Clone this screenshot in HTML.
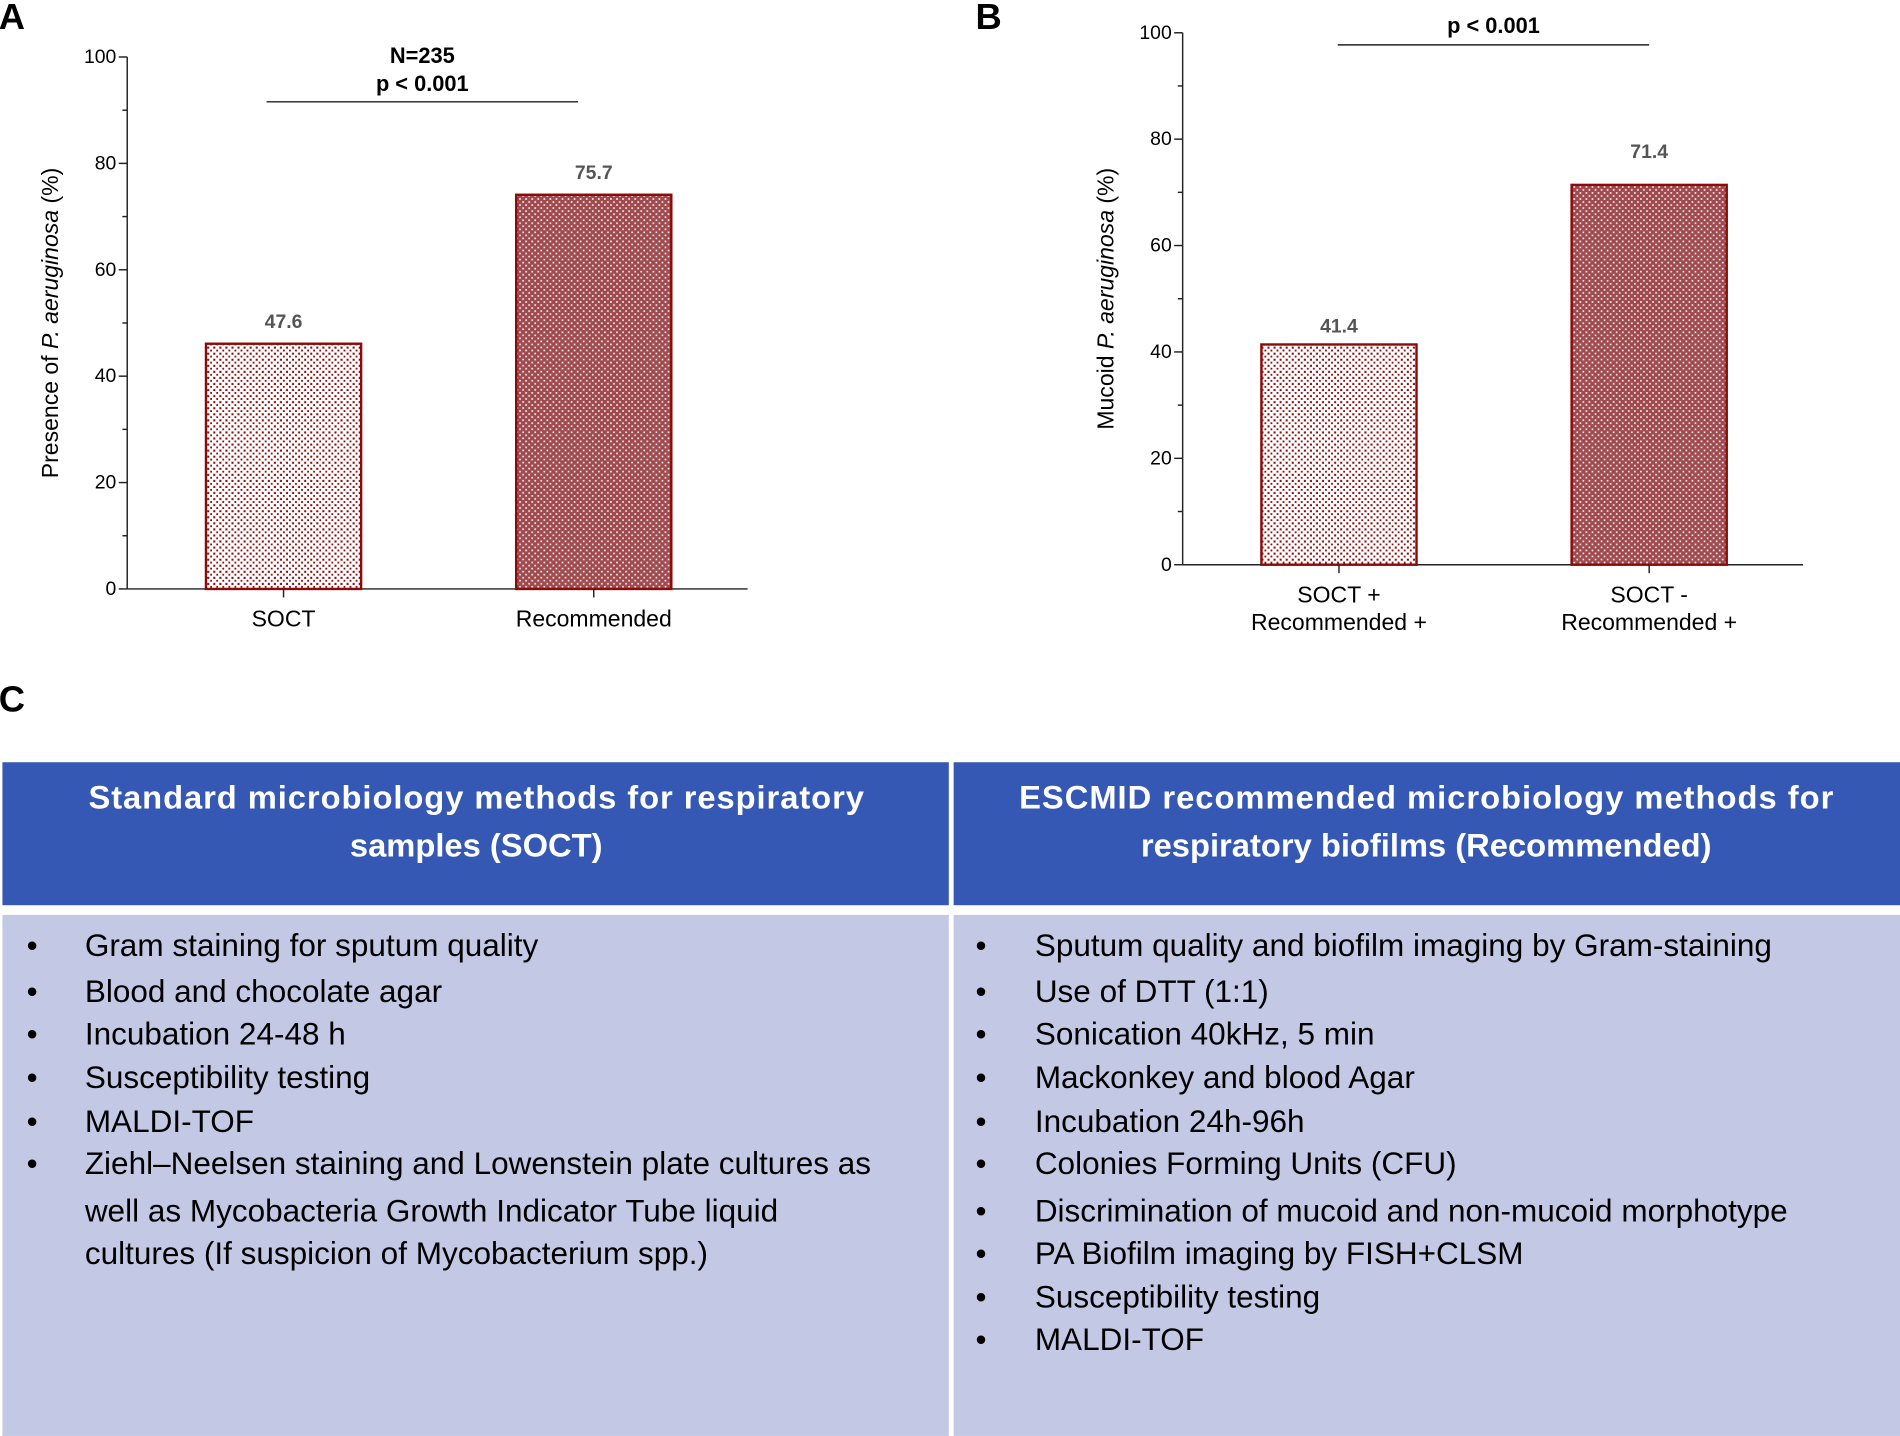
<!DOCTYPE html>
<html><head><meta charset="utf-8"><style>html,body{margin:0;padding:0;background:#fff}svg{display:block}</style></head>
<body>
<svg width="1900" height="1436" viewBox="0 0 1568 1185" xmlns="http://www.w3.org/2000/svg" font-family="Liberation Sans, Arial, sans-serif">
<defs>
<pattern id="pw" width="5" height="5" patternUnits="userSpaceOnUse"><rect width="5" height="5" fill="#fff"/><rect x="1" y="1" width="1.7" height="1.7" fill="#8b0a0a"/><rect x="3.5" y="3.5" width="1.7" height="1.7" fill="#8b0a0a"/></pattern>
<pattern id="pd" width="5" height="5" patternUnits="userSpaceOnUse"><rect width="5" height="5" fill="#9e4a4e"/><rect x="1" y="1" width="1.4" height="1.4" fill="#f6eaea"/><rect x="3.5" y="3.5" width="1.4" height="1.4" fill="#f6eaea"/></pattern>
</defs>
<g id="charts"></g>
<text x="-1" y="24" font-size="30" font-weight="bold">A</text>
<text x="805" y="24" font-size="30" font-weight="bold">B</text>
<text x="-1" y="587" font-size="30" font-weight="bold">C</text>

<g>
<rect x="2" y="629" width="781" height="118" fill="#3558b4"/>
<rect x="787" y="629" width="781" height="118" fill="#3558b4"/>
<rect x="2" y="755" width="781" height="430" fill="#c3c9e4"/>
<rect x="787" y="755" width="781" height="430" fill="#c3c9e4"/>
<g fill="#fff" font-size="27" font-weight="bold" text-anchor="middle">
<text x="393" y="667" textLength="640">Standard microbiology methods for respiratory</text>
<text x="393" y="707">samples (SOCT)</text>
<text x="1177" y="667" textLength="672">ESCMID recommended microbiology methods for</text>
<text x="1177" y="707">respiratory biofilms (Recommended)</text>
</g>
<g id="lists" font-size="26" fill="#000"></g>
</g>
</svg>
<script>
const NS='http://www.w3.org/2000/svg';
function mk(p,t,a,txt){const e=document.createElementNS(NS,t);for(const k in a)e.setAttribute(k,a[k]);if(txt!==undefined)e.textContent=txt;p.appendChild(e);return e;}
const catsA=['SOCT','Recommended'];
const valsA=[46.1,74.1];
const labelsA=['47.6','75.7'];
const catsB=[['SOCT +','Recommended +'],['SOCT -','Recommended +']];
const valsB=[41.4,71.4];
const labelsB=['41.4','71.4'];
const ticks=[0,20,40,60,80,100];
const fills=['url(#pw)','url(#pd)'];
const g=document.getElementById('charts');
function chart(name,ax,y0,cats,vals,labels,ytitle,loff){
  const ppu=4.39, x1=ax+512;
  const ys=v=>y0-v*ppu;
  const cg=mk(g,'g',{});
  
  
  const yl=mk(cg,'line',{x1:ax,x2:ax,y1:ys(0),y2:ys(100),stroke:'#222','stroke-width':1.2});
  
  
  const xl=mk(cg,'line',{x1:ax,x2:x1,y1:y0,y2:y0,stroke:'#222','stroke-width':1.2});
  
  
  for(let v=0;v<=100;v+=10){mk(cg,'line',{x1:ax-(v%20?4:7),x2:ax,y1:ys(v),y2:ys(v),stroke:'#222','stroke-width':1.2});}
  ticks.forEach(v=>{const t=mk(cg,'text',{x:ax-9,y:ys(v)+5,'font-size':16,'text-anchor':'end'},v);
    
    });
  const tt=mk(cg,'text',{transform:`translate(${ax-57},${ys(50)}) rotate(-90)`,'font-size':19,'text-anchor':'middle'});
  
  
  ytitle.forEach(p=>mk(tt,'tspan',p[1]?{'font-style':'italic'}:{},p[0]));
  cats.forEach((c,i)=>{
    const cx=ax+129+i*256, w=128;
    const b=mk(cg,'rect',{x:cx-w/2,y:ys(vals[i]),width:w,height:vals[i]*ppu,fill:fills[i],stroke:'#8b0a0a','stroke-width':2});
    
    
    const vl=mk(cg,'text',{x:cx,y:ys(vals[i])-loff[i],'font-size':16,'font-weight':'bold',fill:'#555','text-anchor':'middle'},labels[i]);
    
    
    mk(cg,'line',{x1:cx,x2:cx,y1:y0,y2:y0+7,stroke:'#222','stroke-width':1.2});
    const lines=Array.isArray(c)?c:[c];
    lines.forEach((s,j)=>{const t=mk(cg,'text',{x:cx,y:y0+31+j*23,'font-size':19,'text-anchor':'middle'},s);
      
      });
  });
}
chart('chart-a',105,486,catsA,valsA,labelsA,[['Presence of  ',0],['P. aeruginosa',1],[' (%)',0]],[13,13]);
chart('chart-b',976,466,catsB,valsB,labelsB,[['Mucoid ',0],['P. aeruginosa',1],[' (%)',0]],[10,22]);
function sig(x1,x2,y,lines,ty){
  const l=mk(g,'line',{x1:x1,x2:x2,y1:y,y2:y,stroke:'#222','stroke-width':1.2});
  
  
  lines.forEach((s,i)=>{const t=mk(g,'text',{x:(x1+x2)/2,y:ty+i*23,'font-size':18,'font-weight':'bold','text-anchor':'middle'},s);
    
    });
}
sig(220,477,84,['N=235','p < 0.001'],52);
sig(1104,1361,37,['p < 0.001'],27);
const leftItems=['Gram staining for sputum quality','Blood and chocolate agar','Incubation 24-48 h','Susceptibility testing','MALDI-TOF','Ziehl–Neelsen staining and Lowenstein plate cultures as','well as Mycobacteria Growth Indicator Tube liquid','cultures  (If suspicion of Mycobacterium spp.)'];
const leftBul=[1,1,1,1,1,1,0,0];
const rightItems=['Sputum quality and biofilm imaging by Gram-staining','Use of DTT (1:1)','Sonication 40kHz, 5 min','Mackonkey and blood Agar','Incubation 24h-96h','Colonies Forming Units (CFU)','Discrimination of mucoid and non-mucoid morphotype','PA Biofilm imaging by FISH+CLSM','Susceptibility testing','MALDI-TOF'];
const rowY=[789,827,862,898,934,969,1008,1043,1079,1114];
const L=document.getElementById('lists');
leftItems.forEach((s,i)=>{if(leftBul[i])mk(L,'text',{x:22,y:rowY[i]},'•');
  const t=mk(L,'text',{x:70,y:rowY[i]},s);
  
  });
rightItems.forEach((s,i)=>{mk(L,'text',{x:805,y:rowY[i]},'•');
  const t=mk(L,'text',{x:854,y:rowY[i]},s);
  
  });
</script>
</body></html>
